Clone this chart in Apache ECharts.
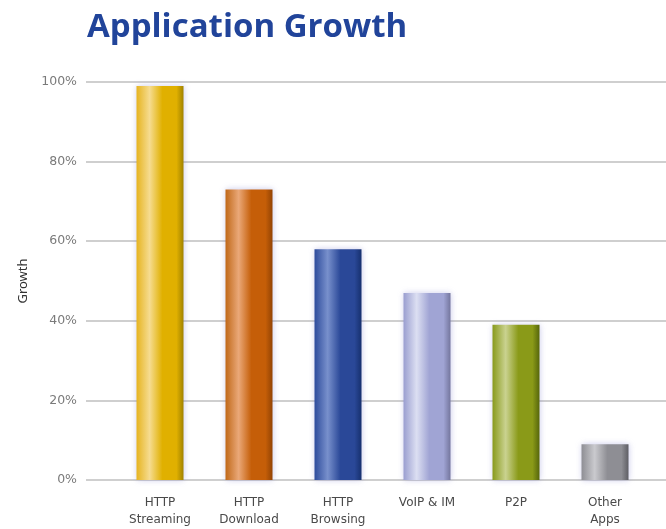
<!DOCTYPE html>
<html>
<head>
<meta charset="utf-8">
<script src="https://cdn.jsdelivr.net/npm/echarts@6/dist/echarts.min.js"></script>
<style>
  html, body { margin: 0; padding: 0; background: #fff; }
  #chart { width: 666px; height: 529px; }
</style>
</head>
<body>
<div id="chart"></div>
<script>
// Application categories and their growth (%)
const categories = ['HTTP\nStreaming', 'HTTP\nDownload', 'HTTP\nBrowsing', 'VoIP & IM', 'P2P', 'Other\nApps'];
const growth = [99, 73, 58, 47, 39, 9];
const yTicks = { min: 0, max: 100, step: 20 };

// Cylinder shading per bar: [edge, highlight, body, dark edge]
const shades = [
  ['#e6b420', '#f6dc90', '#e0b000', '#a08200'],
  ['#c06818', '#eaa878', '#c55e08', '#934404'],
  ['#2e4c9c', '#7890cc', '#2a4898', '#16306e'],
  ['#9a9ed0', '#dcdff2', '#a0a4d4', '#74769e'],
  ['#889a1c', '#cad290', '#8a9a18', '#56660c'],
  ['#8e8e94', '#cacace', '#8e8e94', '#5e5e64']
];

function cylinder(s) {
  return new echarts.graphic.LinearGradient(0, 0, 1, 0, [
    { offset: 0, color: s[0] },
    { offset: 0.28, color: s[1] },
    { offset: 0.55, color: s[2] },
    { offset: 0.85, color: s[2] },
    { offset: 1, color: s[3] }
  ]);
}

const chart = echarts.init(document.getElementById('chart'));
chart.setOption({
  animation: false,
  title: {
    text: 'Application Growth',
    left: 82,
    top: 6,
    textStyle: {
      fontFamily: 'Open Sans',
      fontWeight: 'bold',
      fontSize: 33,
      color: '#21449a'
    }
  },
  grid: [
    { left: 86, right: 0, top: 82, bottom: 49 },
    { left: 115.5, right: 16.5, top: 82, bottom: 49 }
  ],
  xAxis: [
    { gridIndex: 0, type: 'value', show: false, min: 0, max: 1 },
    {
      gridIndex: 1,
      type: 'category',
      data: categories,
      axisLine: { show: false },
      axisTick: { show: false },
      axisLabel: {
        margin: 14,
        fontFamily: 'DejaVu Sans',
        fontSize: 12,
        lineHeight: 17,
        color: '#4a4a4a'
      }
    }
  ],
  yAxis: [
    {
      gridIndex: 0,
      type: 'value',
      min: yTicks.min,
      max: yTicks.max,
      interval: yTicks.step,
      name: 'Growth',
      nameLocation: 'middle',
      nameRotate: 90,
      nameGap: 56,
      nameTextStyle: { fontFamily: 'Noto Sans', fontSize: 13, color: '#333' },
      axisLine: { show: false },
      axisTick: { show: false },
      axisLabel: {
        formatter: '{value}%',
        margin: 9,
        fontFamily: 'DejaVu Sans',
        fontSize: 12.5,
        color: '#7a7a7a'
      },
      splitLine: { lineStyle: { color: '#cfcfcf', width: 2 } }
    },
    {
      gridIndex: 1,
      type: 'value',
      min: yTicks.min,
      max: yTicks.max,
      show: false,
      splitLine: { show: false }
    }
  ],
  series: [{
    type: 'bar',
    xAxisIndex: 1,
    yAxisIndex: 1,
    barWidth: 47,
    data: growth.map((v, i) => ({
      value: v,
      itemStyle: {
        color: cylinder(shades[i]),
        shadowBlur: 6,
        shadowColor: 'rgba(110,110,200,0.35)'
      }
    }))
  }]
});
</script>
</body>
</html>
